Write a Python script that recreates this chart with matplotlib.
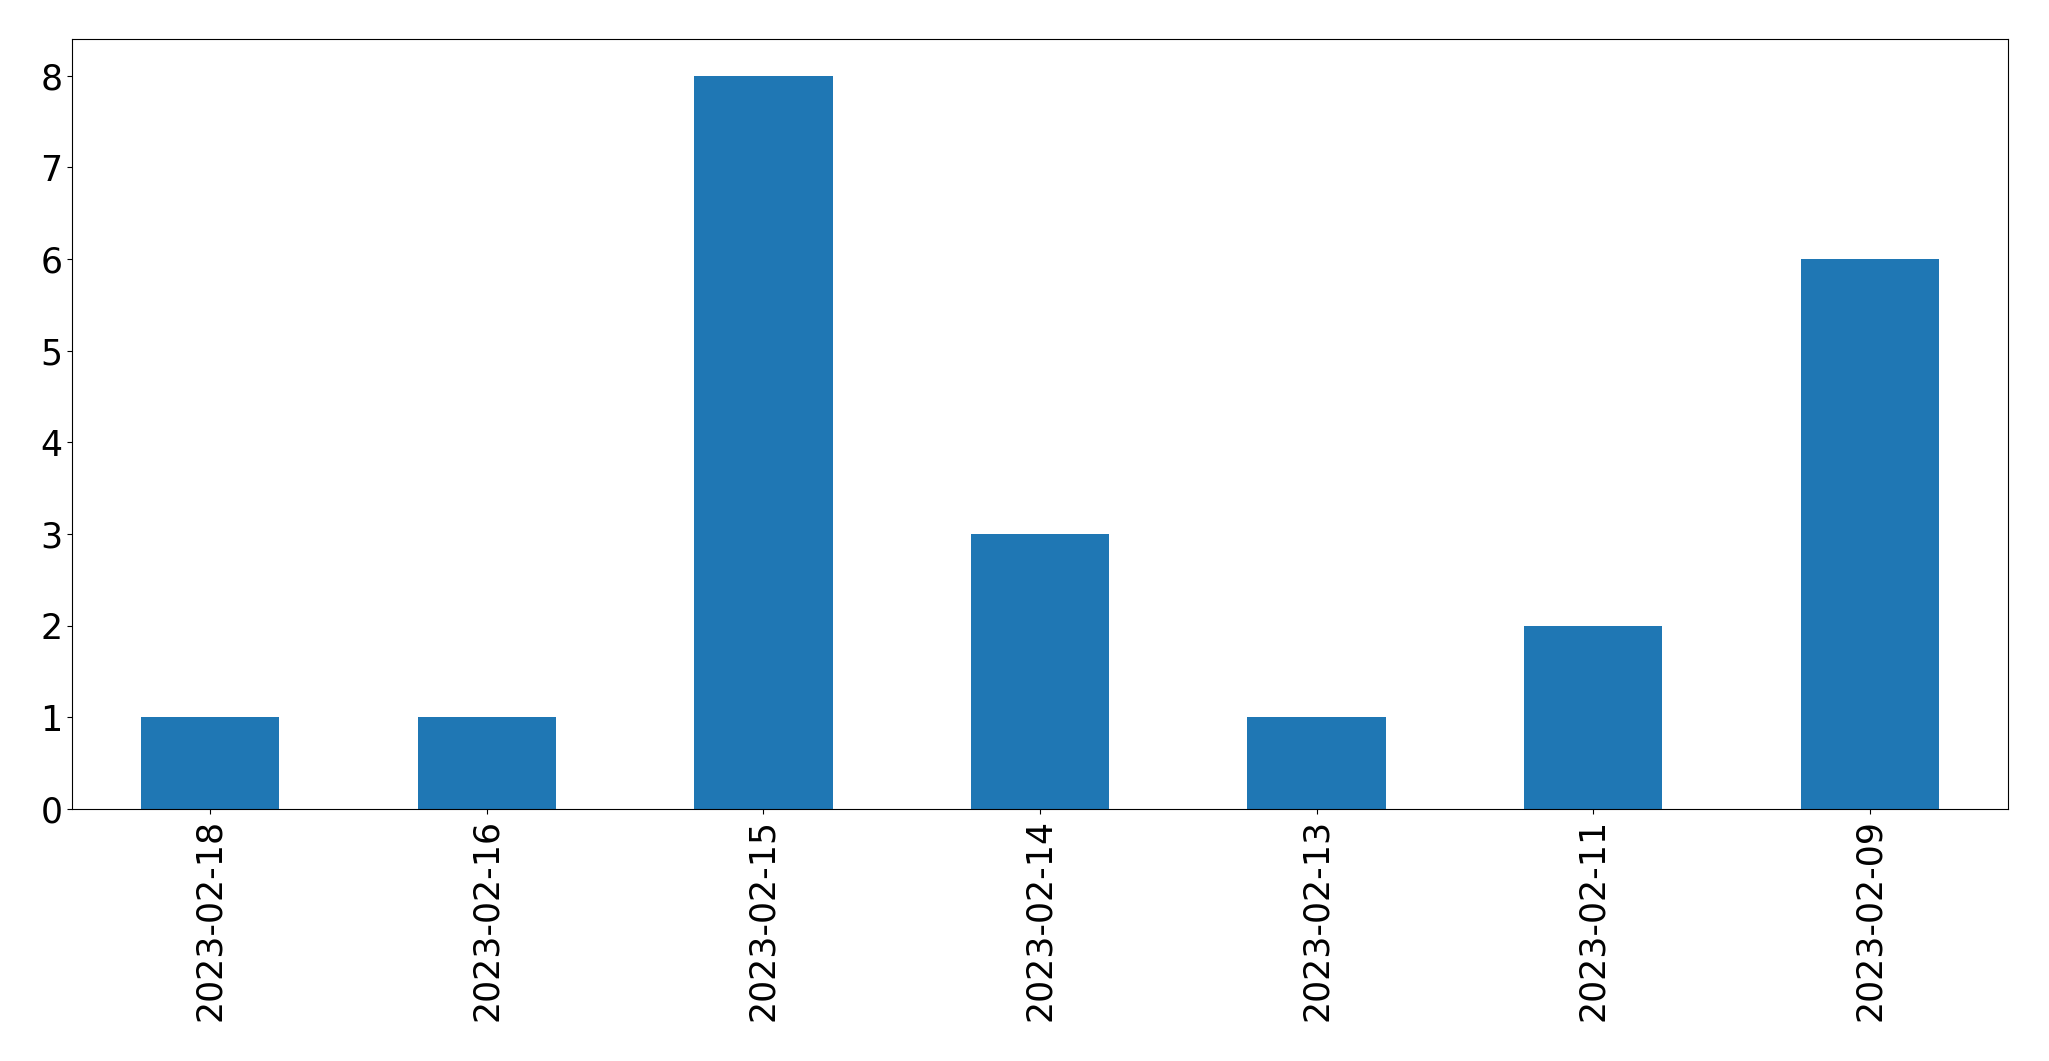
import matplotlib
matplotlib.use("Agg")
import matplotlib.pyplot as plt

# Dates and counts
dates = ["2023-02-18", "2023-02-16", "2023-02-15", "2023-02-14",
         "2023-02-13", "2023-02-11", "2023-02-09"]
counts = [1, 1, 8, 3, 1, 2, 6]

fig = plt.figure(figsize=(20.49, 10.61), dpi=100)
ax = fig.add_axes([72 / 2049, 1 - 809 / 1061, (2008 - 72) / 2049, (809 - 39) / 1061])

pos = list(range(len(dates)))
ax.bar(pos, counts, width=0.5, color="#1f77b4")
ax.set_xticks(pos)
ax.set_xticklabels(dates, rotation=90)
ax.set_xlim(-0.5, len(dates) - 0.5)
ax.set_ylim(0, 8.4)
ax.tick_params(labelsize=25)

fig.savefig("out.png", dpi=100)
